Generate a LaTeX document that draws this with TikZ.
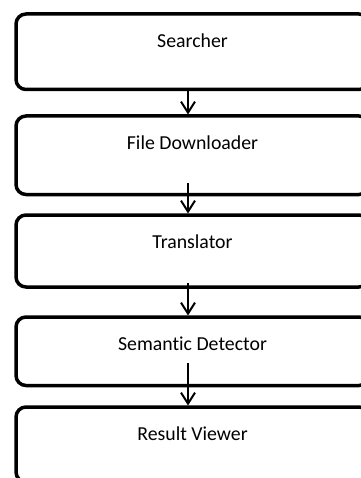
\documentclass[tikz,border=0pt]{standalone}
\usepackage{fontspec}
\setmainfont[Ligatures={NoCommon,NoRare}]{Carlito}
\usetikzlibrary{arrows.meta}

\begin{document}
\begin{tikzpicture}[x=1pt, y=-1pt,
  block/.style={draw, line width=3.5pt, rounded corners=10pt, minimum width=353pt, inner sep=0pt, outer sep=0pt},
  blocktext/.style={anchor=center, yshift=-26.5pt, inner sep=0pt, font=\fontsize{19.8}{24}\selectfont},
  flow/.style={line width=2pt, -{Straight Barb[length=11pt, width=14pt, line width=2pt]}}]
\useasboundingbox (0,0) rectangle (360,478);

\node[block, minimum height=75.5pt, label={[blocktext]north:Searcher}] (srch) at (192.5,51.75) {};
\node[block, minimum height=78.5pt, label={[blocktext]north:File Downloader}] (dl) at (192.5,155.25) {};
\node[block, minimum height=72pt, label={[blocktext]north:Translator}] (tr) at (192.5,251) {};
\node[block, minimum height=68.5pt, label={[blocktext]north:Semantic Detector}] (sd) at (192.5,351.25) {};
\node[block, minimum height=75pt, label={[blocktext]north:Result Viewer}] (rv) at (192.5,444.5) {};

\draw[flow] ([xshift=-4.5pt]srch.south) -- ([xshift=-4.5pt, yshift=1.5pt]dl.north);
\draw[flow] ([xshift=-4.5pt, yshift=11.5pt]dl.south) -- ([xshift=-4.5pt, yshift=1.5pt]tr.north);
\draw[flow] ([xshift=-4.5pt, yshift=4pt]tr.south) -- ([xshift=-4.5pt, yshift=1.5pt]sd.north);
\draw[flow] ([xshift=-4.5pt, yshift=22.5pt]sd.south) -- ([xshift=-4.5pt, yshift=1.5pt]rv.north);
\end{tikzpicture}
\end{document}
